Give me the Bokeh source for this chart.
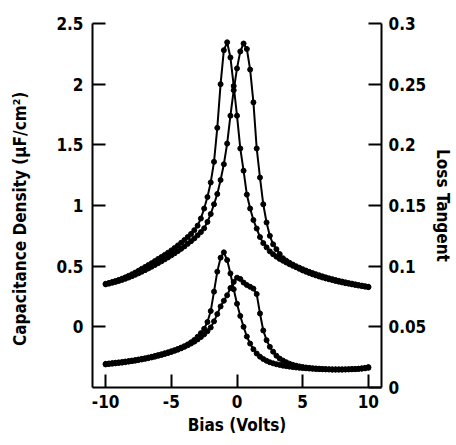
from bokeh.plotting import figure
from bokeh.models import Range1d, LinearAxis, FixedTicker, NumeralTickFormatter
from bokeh.embed import file_html
from bokeh.resources import INLINE

# Bias sweep points (Volts), 0.25 V steps
bias = [-10.0 + 0.25 * i for i in range(81)]

# Capacitance density (uF/cm^2), forward sweep (peak near -0.75 V)
cap_fwd = [0.355, 0.362, 0.370, 0.378, 0.387, 0.397, 0.408, 0.420, 0.433, 0.447,
           0.462, 0.478, 0.493, 0.509, 0.525, 0.542, 0.560, 0.576, 0.593, 0.611,
           0.630, 0.650, 0.671, 0.693, 0.716, 0.740, 0.766, 0.797, 0.834, 0.893,
           0.975, 1.070, 1.190, 1.360, 1.640, 2.000, 2.280, 2.345, 2.220, 1.985,
           1.740, 1.470, 1.287, 1.090, 0.975, 0.880, 0.810, 0.740, 0.690, 0.655,
           0.622, 0.598, 0.578, 0.560, 0.545, 0.530, 0.516, 0.503, 0.491, 0.478,
           0.465, 0.454, 0.443, 0.433, 0.424, 0.415, 0.407, 0.399, 0.392, 0.385,
           0.378, 0.372, 0.366, 0.360, 0.355, 0.350, 0.345, 0.340, 0.336, 0.331,
           0.327]

# Capacitance density, reverse sweep (peak near +0.5 V)
cap_rev = [0.350, 0.356, 0.363, 0.370, 0.378, 0.387, 0.396, 0.406, 0.417, 0.429,
           0.441, 0.454, 0.467, 0.481, 0.495, 0.510, 0.525, 0.540, 0.556, 0.572,
           0.589, 0.606, 0.624, 0.643, 0.663, 0.684, 0.706, 0.729, 0.754, 0.781,
           0.812, 0.865, 0.930, 1.010, 1.095, 1.210, 1.340, 1.510, 1.740, 1.950,
           2.130, 2.270, 2.335, 2.290, 2.120, 1.850, 1.470, 1.230, 1.010, 0.860,
           0.750, 0.680, 0.640, 0.600, 0.565, 0.545, 0.528, 0.513, 0.499, 0.487,
           0.475, 0.464, 0.453, 0.443, 0.434, 0.425, 0.416, 0.408, 0.400, 0.393,
           0.386, 0.379, 0.373, 0.367, 0.361, 0.356, 0.350, 0.345, 0.340, 0.335,
           0.330]

# Loss tangent, forward sweep (sharp peak near -1 V)
tan_fwd = [0.0195, 0.0198, 0.0201, 0.0204, 0.0207, 0.0210, 0.0214, 0.0218, 0.0222, 0.0226,
           0.0231, 0.0236, 0.0241, 0.0247, 0.0253, 0.0260, 0.0267, 0.0274, 0.0282, 0.0290,
           0.0299, 0.0308, 0.0318, 0.0329, 0.0341, 0.0355, 0.0372, 0.0392, 0.0418, 0.0448,
           0.0484, 0.0540, 0.0630, 0.0790, 0.0955, 0.1070, 0.1114, 0.1050, 0.0940, 0.0810,
           0.0690, 0.0590, 0.0500, 0.0420, 0.0362, 0.0315, 0.0280, 0.0254, 0.0235, 0.0220,
           0.0208, 0.0199, 0.0192, 0.0186, 0.0180, 0.0176, 0.0172, 0.0168, 0.0165, 0.0162,
           0.0160, 0.0158, 0.0156, 0.0154, 0.0152, 0.0151, 0.0150, 0.0149, 0.0148, 0.0147,
           0.0147, 0.0147, 0.0147, 0.0148, 0.0149, 0.0150, 0.0151, 0.0153, 0.0155, 0.0158,
           0.0162]

# Loss tangent, reverse sweep (peak near 0 V with shoulder to ~1.5 V)
tan_rev = [0.0190, 0.0193, 0.0196, 0.0199, 0.0202, 0.0205, 0.0209, 0.0213, 0.0217, 0.0221,
           0.0226, 0.0231, 0.0236, 0.0242, 0.0248, 0.0254, 0.0261, 0.0268, 0.0276, 0.0284,
           0.0293, 0.0302, 0.0312, 0.0323, 0.0335, 0.0348, 0.0362, 0.0378, 0.0396, 0.0416,
           0.0438, 0.0464, 0.0495, 0.0545, 0.0605, 0.0668, 0.0715, 0.0760, 0.0820, 0.0870,
           0.0905, 0.0895, 0.0865, 0.0845, 0.0830, 0.0815, 0.0770, 0.0610, 0.0470, 0.0390,
           0.0335, 0.0295, 0.0262, 0.0238, 0.0222, 0.0208, 0.0196, 0.0187, 0.0180, 0.0174,
           0.0169, 0.0165, 0.0162, 0.0159, 0.0157, 0.0155, 0.0153, 0.0152, 0.0151, 0.0150,
           0.0150, 0.0150, 0.0150, 0.0150, 0.0151, 0.0152, 0.0153, 0.0155, 0.0158, 0.0162,
           0.0168]

x_ticks = [-10, -5, 0, 5, 10]
cap_ticks = [0, 0.5, 1, 1.5, 2, 2.5]
tan_ticks = [0, 0.05, 0.1, 0.15, 0.2, 0.25, 0.3]

FONT = "DejaVu Sans Condensed"
FS = "17px"

p = figure(frame_width=289, frame_height=364, output_backend="svg", toolbar_location=None,
           x_range=Range1d(-11, 11), y_range=Range1d(-0.5, 2.5),
           min_border_left=92, min_border_right=70, min_border_top=23, min_border_bottom=56)
p.extra_y_ranges = {"tan": Range1d(0, 0.3)}
p.outline_line_color = None
p.grid.visible = False
p.background_fill_color = "white"

for ys, rng in ((cap_fwd, "default"), (cap_rev, "default"), (tan_fwd, "tan"), (tan_rev, "tan")):
    p.line(bias, ys, y_range_name=rng, line_color="black", line_width=2)
    p.scatter(bias, ys, y_range_name=rng, marker="circle", size=5,
              fill_color="black", line_color="black")

right = LinearAxis(y_range_name="tan")
p.add_layout(right, "right")

p.xaxis.ticker = FixedTicker(ticks=x_ticks)
p.yaxis[0].ticker = FixedTicker(ticks=cap_ticks)
right.ticker = FixedTicker(ticks=tan_ticks)

for ax in (p.xaxis[0], p.yaxis[0], right):
    ax.formatter = NumeralTickFormatter(format="0.[00]")
    ax.major_tick_in = 13
    ax.major_tick_out = 0
    ax.minor_tick_line_color = None
    ax.axis_line_width = 2
    ax.major_tick_line_width = 2
    ax.axis_line_color = "black"
    ax.major_tick_line_color = "black"
    ax.major_label_text_font = FONT
    ax.major_label_text_font_size = FS
    ax.major_label_text_font_style = "bold"
    ax.major_label_text_color = "black"
    ax.axis_label_text_font = FONT
    ax.axis_label_text_font_size = FS
    ax.axis_label_text_font_style = "bold"
    ax.axis_label_text_color = "black"

p.xaxis[0].axis_label = "Bias (Volts)"
p.xaxis[0].major_label_standoff = 7
p.xaxis[0].axis_label_standoff = 4
p.yaxis[0].axis_label = "Capacitance Density (μF/cm²)\u00a0\u00a0\u00a0\u00a0\u00a0"
p.yaxis[0].major_label_standoff = 9
p.yaxis[0].axis_label_standoff = 23
right.axis_label = "Loss Tangent"
right.major_label_standoff = 7
right.axis_label_standoff = 4

open("out.html", "w").write(file_html(p, INLINE))
